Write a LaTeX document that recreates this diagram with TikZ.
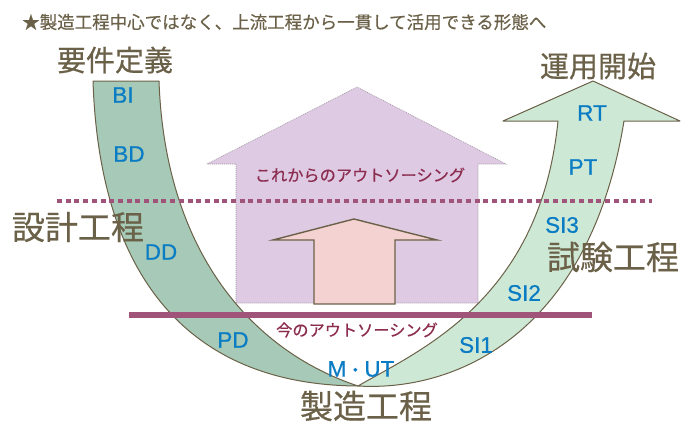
\documentclass[tikz,border=0pt]{standalone}
\usepackage{fontspec}
\setmainfont{Noto Sans CJK JP}
\newfontfamily\jpfont[FakeBold=0.5]{Noto Sans CJK JP}
\newfontfamily\latinsf[FakeBold=0.6]{Liberation Sans}
\definecolor{bandD}{RGB}{166,202,183}
\definecolor{bandL}{RGB}{206,232,214}
\definecolor{edgeC}{RGB}{107,97,72}
\definecolor{houseF}{RGB}{223,202,228}
\definecolor{houseE}{RGB}{160,150,160}
\definecolor{pinkF}{RGB}{245,210,210}
\definecolor{lineC}{RGB}{160,84,122}
\definecolor{blueT}{RGB}{10,124,196}
\definecolor{purT}{RGB}{140,45,80}
\definecolor{brownT}{RGB}{107,97,72}
\tikzset{
  bandedge/.style={draw=edgeC, line width=1pt, line join=round},
  housestyle/.style={fill=houseF, draw=houseE, line width=0.6pt, dash pattern=on 1pt off 1pt},
  pinkstyle/.style={fill=pinkF, draw=edgeC, line width=1.4pt, line join=miter},
  dotline/.style={draw=lineC, line width=4.5pt, dash pattern=on 5pt off 3.7pt},
  solidline/.style={draw=lineC, line width=5.5pt},
  bluelab/.style={text=blueT, font=\latinsf\fontsize{22.5}{22.5}\selectfont, inner sep=0pt},
  biglab/.style={text=brownT, font=\jpfont\fontsize{33}{33}\selectfont, inner sep=0pt},
  toplab/.style={text=brownT, font=\jpfont\fontsize{29}{29}\selectfont, inner sep=0pt},
  purlab/.style={text=purT, font=\jpfont\fontsize{16.2}{16.2}\selectfont, inner sep=0pt},
}
\begin{document}
\begin{tikzpicture}[x=1pt,y=-1pt]
\useasboundingbox (0,0) rectangle (681,421);
% house arrow (future outsourcing)
\draw[housestyle] (236,303) -- (236,164) -- (207,164) -- (357,87) -- (506,164) -- (478,164) -- (478,303) -- cycle;
% pink arrow
\draw[pinkstyle] (314,304) -- (314,240) -- (273,240) -- (354,219) -- (437,240) -- (395,240) -- (395,304) -- cycle;
% right band (test) with arrow head
\draw[bandedge, fill=bandL] (358,386) .. controls (460,392) and (590,330) .. (624,121)
  -- (680,121) -- (593,81) -- (503,121) -- (558,121)
  .. controls (540,300) and (420,350) .. (358,386) -- cycle;
% left band (design)
\draw[bandedge, fill=bandD] (93,81) -- (159,81) .. controls (165,250) and (250,350) .. (358,386)
  .. controls (200,385) and (100,290) .. (93,81) -- cycle;
% lines
\coordinate (dotL) at (57,201);
\coordinate (dotR) at (652,201);
\coordinate (solL) at (129,315);
\coordinate (solR) at (592,315);
\draw[dotline] (dotL) -- (dotR);
\draw[solidline] (solL) -- (solR);
% title
\node[anchor=west, inner sep=0pt, text=brownT, font=\jpfont\fontsize{17.5}{17.5}\selectfont] (title) at (22,22) {★製造工程中心ではなく、上流工程から一貫して活用できる形態へ};
% big labels
\node[toplab] (req) at (115,60) {要件定義};
\node[toplab] (ops) at (598,66) {運用開始};
\node[biglab] (des) at (78,227) {設計工程};
\node[biglab] (tst) at (613,257) {試験工程};
\node[biglab] (mfg) at (366,406) {製造工程};
% purple labels
\node[purlab] (future) at (360,175) {これからのアウトソーシング};
\node[purlab] (now) at (357,330) {今のアウトソーシング};
% blue labels
\node[bluelab] (bi) at (123,95) {BI};
\node[bluelab] (bd) at (129,154) {BD};
\node[bluelab] (dd) at (161,252) {DD};
\node[bluelab] (pd) at (233,340) {PD};
\node[bluelab] (mut) at (361,369) {M{\jpfont\fontsize{18}{18}\selectfont ・}UT};
\node[bluelab] (si1) at (476,345) {SI1};
\node[bluelab] (si2) at (524,293) {SI2};
\node[bluelab] (si3) at (562,225) {SI3};
\node[bluelab] (pt) at (583,167) {PT};
\node[bluelab] (rt) at (592,113) {RT};
\end{tikzpicture}
\end{document}
